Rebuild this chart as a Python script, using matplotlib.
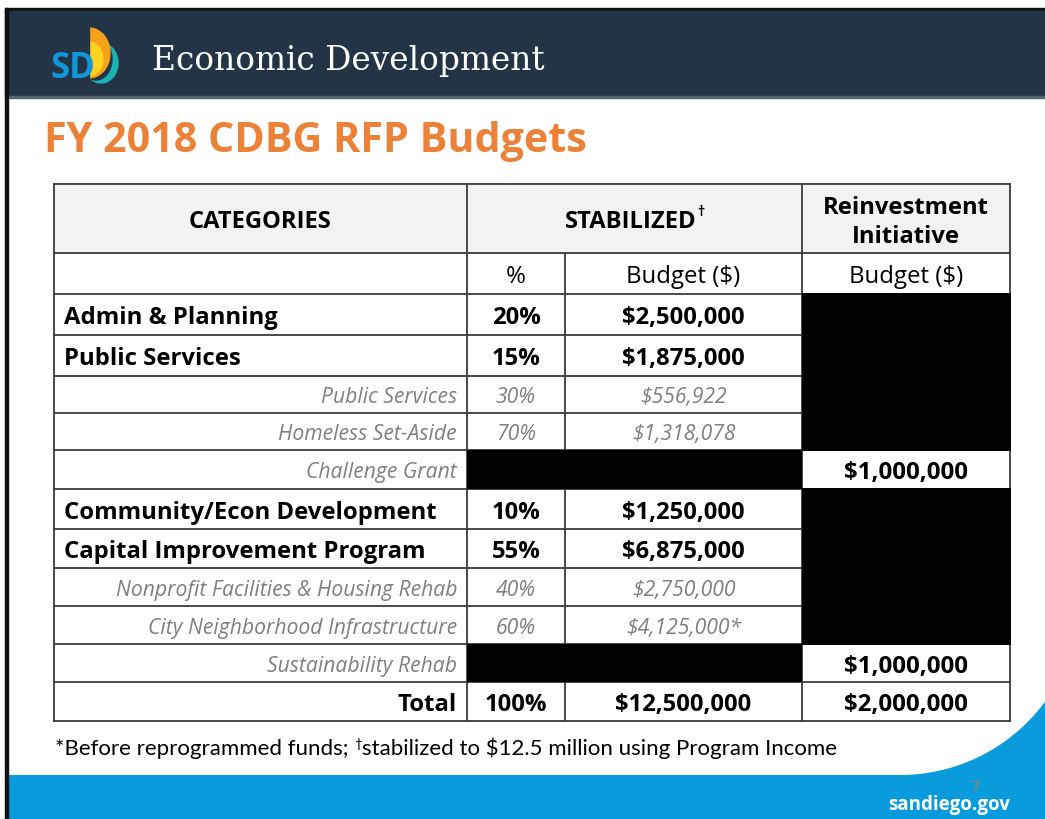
import matplotlib
matplotlib.use("Agg")
import matplotlib.pyplot as plt
from matplotlib.patches import Rectangle, Polygon, Ellipse
import numpy as np

# ---------------- data ----------------
title_header = "Economic Development"
slide_title = "FY 2018 CDBG RFP Budgets"
col_headers = ["CATEGORIES", "STABILIZED", "Reinvestment\nInitiative"]
sub_headers = ["%", "Budget ($)", "Budget ($)"]
categories = ["Admin & Planning", "Public Services", "Public Services",
              "Homeless Set-Aside", "Challenge Grant", "Community/Econ Development",
              "Capital Improvement Program", "Nonprofit Facilities & Housing Rehab",
              "City Neighborhood Infrastructure", "Sustainability Rehab", "Total"]
row_level = ["main", "main", "sub", "sub", "sub", "main", "main", "sub", "sub", "sub", "total"]
stab_pct = ["20%", "15%", "30%", "70%", None, "10%", "55%", "40%", "60%", None, "100%"]
stab_budget = ["$2,500,000", "$1,875,000", "$556,922", "$1,318,078", None,
               "$1,250,000", "$6,875,000", "$2,750,000", "$4,125,000*", None, "$12,500,000"]
reinvest_budget = [None, None, None, None, "$1,000,000", None, None, None, None,
                   "$1,000,000", "$2,000,000"]
footnote_a = "*Before reprogrammed funds; "
footnote_b = "stabilized to $12.5 million using Program Income"
site = "sandiego.gov"
page = "7"

# ---------------- layout ----------------
W, H = 1045, 820
fig = plt.figure(figsize=(W / 100, H / 100), dpi=100)
ax = fig.add_axes([0, 0, 1, 1])
ax.set_xlim(0, W)
ax.set_ylim(H, 0)
ax.axis("off")
renderer = fig.canvas.get_renderer()

SANS = ["Open Sans", "DejaVu Sans"]
NAVY = "#243447"
ORANGE = "#EC8137"
BLUE = "#0A9BDC"
GRID = "#3c3c3c"
GRAY = "#7f7f7f"


def width_of(s, **kw):
    t = ax.text(0, 0, s, **kw)
    w = t.get_window_extent(renderer).width
    t.remove()
    return w


def fit_size(s, target, **kw):
    w = width_of(s, fontsize=20, **kw)
    return 20 * target / w


def put(x, ycenter, s, size, ha="center", capfrac=0.714, **kw):
    cap = capfrac * size * 100 / 72
    return ax.text(x, ycenter + cap / 2, s, fontsize=size, ha=ha, va="baseline", **kw)


# frame & header band
ax.add_patch(Rectangle((0, 0), W, H, color="white", zorder=0))
ax.add_patch(Rectangle((5, 9), W, 3.5, color="#111111", zorder=1))
ax.add_patch(Rectangle((5, 12), W, 85, color=NAVY, zorder=1))
ax.add_patch(Rectangle((5, 97), W, 2, color="#56626f", zorder=1))

# footer band with curved corner
x0, R, ybase = 900, 180, 776
xs = np.linspace(x0, W, 60)
ys = ybase - (R - np.sqrt(np.clip(R ** 2 - (xs - x0) ** 2, 0, None)))
pts = [(5, ybase)] + list(zip(xs, ys)) + [(W, H), (5, H)]
ax.add_patch(Polygon(pts, closed=True, color=BLUE, zorder=1, lw=0))
ax.add_patch(Rectangle((5, 9), 2.5, H, color="#111111", zorder=2))

# logo
ax.add_patch(Ellipse((101, 64), 34, 40, color="#1BB3B0", zorder=3))
ax.add_patch(Ellipse((96, 60), 32, 42, color=NAVY, zorder=3))
ax.add_patch(Ellipse((89, 54), 42, 50, color="#F7A11A", zorder=4))
ax.add_patch(Ellipse((89, 60), 28, 34, color="#FFD21F", zorder=4))
ax.add_patch(Rectangle((62, 26), 27, 60, color=NAVY, zorder=4))
ax.text(50, 78, "SD", fontsize=25, fontweight="bold", family=SANS, color="#1196D8",
        ha="left", va="baseline", zorder=5)

# header title
s_hdr = fit_size(title_header, 391, family="DejaVu Serif")
ax.text(152, 70, title_header, fontsize=s_hdr, family="DejaVu Serif", color="white",
        ha="left", va="baseline", zorder=5)

# slide title
s_title = fit_size(slide_title, 543, family=SANS, fontweight="bold")
ax.text(44, 152, slide_title, fontsize=s_title, family=SANS, fontweight="bold",
        color=ORANGE, ha="left", va="baseline", zorder=5)

# ---------------- table ----------------
xl, xc1, xc2, xc3, xr = 54, 467, 565, 802, 1010
y_head0, y_head1, y_sub1 = 185, 254, 295
row_edges = [295, 336, 377, 414, 451, 490, 530, 569, 607, 645, 683, 722]

ax.add_patch(Rectangle((xl, y_head0), xr - xl, y_head1 - y_head0, color="#F2F2F2", zorder=2))

lw = 1.3
for y in [y_head0, y_head1] + row_edges:
    ax.plot([xl, xr], [y, y], color=GRID, lw=lw, zorder=3, solid_capstyle="projecting")
for x in [xl, xc1, xc3, xr]:
    ax.plot([x, x], [y_head0, row_edges[-1]], color=GRID, lw=lw, zorder=3)
ax.plot([xc2, xc2], [y_head1, row_edges[-1]], color=GRID, lw=lw, zorder=3)

# black cells
for i in range(len(categories)):
    ya, yb = row_edges[i], row_edges[i + 1]
    if reinvest_budget[i] is None:
        ax.add_patch(Rectangle((xc3, ya - 0.8), xr - xc3 + 0.8, yb - ya + 1.6,
                               color="black", zorder=4, lw=0))
    if stab_pct[i] is None:
        ax.add_patch(Rectangle((xc1, ya - 0.2), xc3 - xc1, yb - ya + 0.4,
                               color="black", zorder=4, lw=0))

# font sizes
s_head = fit_size("CATEGORIES", 143, family=SANS, fontweight="bold")
s_sub = fit_size("Budget ($)", 114, family=SANS)
s_main = fit_size("Admin & Planning", 213, family=SANS, fontweight="bold")
s_val = fit_size("$12,500,000", 138, family=SANS, fontweight="bold")
s_it = fit_size("Nonprofit Facilities & Housing Rehab", 342, family=SANS, style="italic")

c1, c2, c3 = (xc1 + xc2) / 2, (xc2 + xc3) / 2, (xc3 + xr) / 2
yh = (y_head0 + y_head1) / 2
put((xl + xc1) / 2, yh, col_headers[0], s_head, family=SANS, fontweight="bold", zorder=5)
stab_w = width_of(col_headers[1], fontsize=s_head, family=SANS, fontweight="bold")
dag_w = width_of("\u2020", fontsize=s_head * 0.6, family=SANS, fontweight="bold")
sx = (xc1 + xc3) / 2 - (stab_w + dag_w) / 2
put(sx, yh, col_headers[1], s_head, ha="left", family=SANS, fontweight="bold", zorder=5)
ax.text(sx + stab_w, yh - 4, "\u2020", fontsize=s_head * 0.6, family=SANS,
        fontweight="bold", ha="left", va="baseline", zorder=5)
r1, r2 = col_headers[2].split("\n")
put(c3, yh - 14, r1, s_head, family=SANS, fontweight="bold", zorder=5)
put(c3, yh + 15, r2, s_head, family=SANS, fontweight="bold", zorder=5)

ys = (y_head1 + y_sub1) / 2
for x, s in zip([c1, c2, c3], sub_headers):
    put(x, ys, s, s_sub, family=SANS, zorder=5)

for i, cat in enumerate(categories):
    yc = (row_edges[i] + row_edges[i + 1]) / 2
    lvl = row_level[i]
    if lvl == "main":
        kw = dict(family=SANS, fontweight="bold", color="black")
        put(64, yc, cat, s_main, ha="left", zorder=5, **kw)
        vs = s_main
    elif lvl == "total":
        kw = dict(family=SANS, fontweight="bold", color="black")
        put(457, yc, cat, s_main, ha="right", zorder=5, **kw)
        vs = s_main
    else:
        kw = dict(family=SANS, style="italic", color=GRAY)
        put(457, yc, cat, s_it, ha="right", zorder=5, **kw)
        vs = s_it
    if stab_pct[i] is not None:
        put(c1, yc, stab_pct[i], vs, zorder=5, **kw)
        put(c2, yc, stab_budget[i], vs, zorder=5, **kw)
    if reinvest_budget[i] is not None:
        put(c3, yc, reinvest_budget[i], s_val, zorder=5,
            family=SANS, fontweight="bold", color="black")

# footnote
FN = ["Lato", "DejaVu Sans"]
wa = width_of(footnote_a, fontsize=20, family=FN)
wb = width_of(footnote_b, fontsize=20, family=FN)
wd = width_of("\u2020", fontsize=12, family=FN)
s_fn = 20 * (781 - wd * 0.8) / (wa + wb)
fy = 755
ax.text(55, fy, footnote_a, fontsize=s_fn, family=FN, ha="left", va="baseline", zorder=5)
wa2 = width_of(footnote_a, fontsize=s_fn, family=FN)
ax.text(55 + wa2, fy - 7, "\u2020", fontsize=s_fn * 0.6, family=FN, ha="left",
        va="baseline", zorder=5)
wd2 = width_of("\u2020", fontsize=s_fn * 0.6, family=FN)
ax.text(55 + wa2 + wd2, fy, footnote_b, fontsize=s_fn, family=FN, ha="left",
        va="baseline", zorder=5)

# footer text
ax.text(1010, 810, site, fontsize=13.5, family=SANS, fontweight="bold", color="white",
        ha="right", va="baseline", zorder=5)
ax.text(975, 791, page, fontsize=10, family=SANS, color="#C8734A", ha="center",
        va="baseline", zorder=5)

fig.savefig("out.png", dpi=100)
